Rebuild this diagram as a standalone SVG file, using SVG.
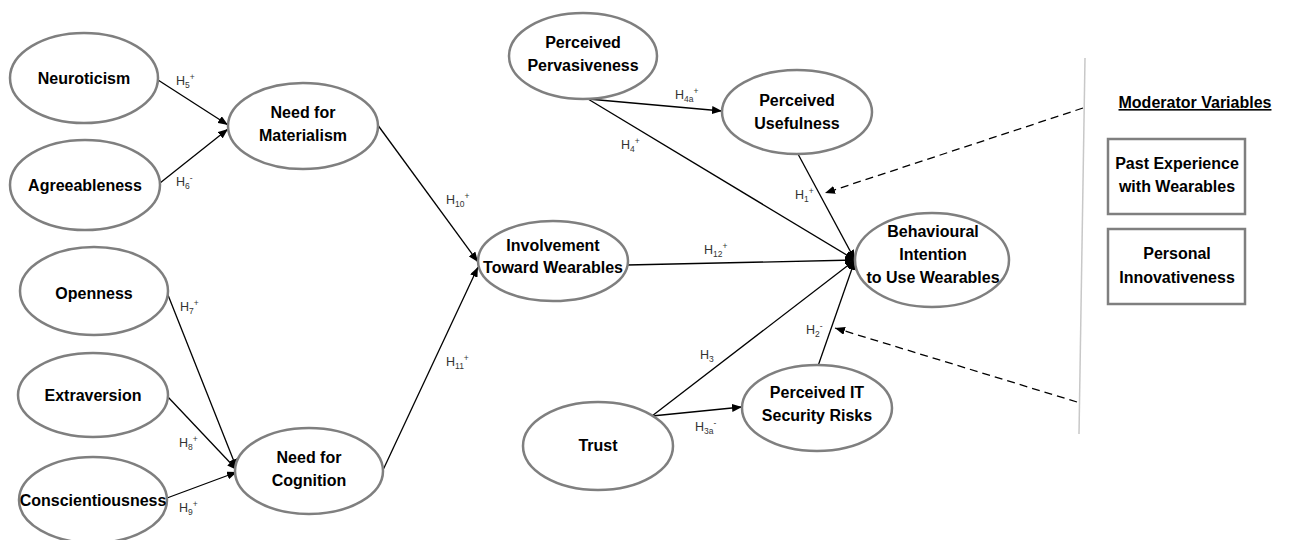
<svg xmlns="http://www.w3.org/2000/svg" width="1290" height="540" viewBox="0 0 1290 540">
<defs>
<marker id="ah" markerUnits="userSpaceOnUse" markerWidth="10" markerHeight="8" refX="10" refY="4" orient="auto">
<path d="M0,0 L10,4 L0,8 z" fill="#000"/>
</marker>
</defs>
<style>
.node ellipse{fill:#fff;stroke:#7f7f7f;stroke-width:2.5}
.node rect{fill:#fff;stroke:#7f7f7f;stroke-width:2.5}
.lbl{font-family:"Liberation Sans",Arial,sans-serif;font-weight:bold;font-size:16px;fill:#000;text-anchor:middle}
.h{font-family:"Liberation Sans",Arial,sans-serif;font-size:12.5px;fill:#333}
.s{font-size:8.5px}
.c line{stroke:#000;stroke-width:1.3;fill:none}
.c .d{stroke-dasharray:8,5}
</style>
<rect width="1290" height="540" fill="#fff"/>

<g id="connectors" class="c">
<line x1="158" y1="80" x2="228" y2="125" marker-end="url(#ah)"/>
<line x1="160" y1="183" x2="228" y2="129" marker-end="url(#ah)"/>
<line x1="168" y1="295" x2="237" y2="469" marker-end="url(#ah)"/>
<line x1="168" y1="397" x2="237" y2="470" marker-end="url(#ah)"/>
<line x1="167" y1="498" x2="237" y2="472" marker-end="url(#ah)"/>
<line x1="377" y1="124" x2="478" y2="262" marker-end="url(#ah)"/>
<line x1="383" y1="470" x2="478" y2="267" marker-end="url(#ah)"/>
<line x1="627" y1="265" x2="855" y2="260" marker-end="url(#ah)"/>
<line x1="588" y1="99" x2="722" y2="111" marker-end="url(#ah)"/>
<line x1="588" y1="99" x2="855" y2="260" marker-end="url(#ah)"/>
<line x1="798" y1="154" x2="855" y2="260" marker-end="url(#ah)"/>
<line x1="652" y1="416" x2="855" y2="260" marker-end="url(#ah)"/>
<line x1="652" y1="416" x2="742" y2="407" marker-end="url(#ah)"/>
<line x1="818" y1="366" x2="855" y2="260" marker-end="url(#ah)"/>
<line class="d" x1="1083" y1="108" x2="825" y2="193" marker-end="url(#ah)"/>
<line class="d" x1="1077" y1="402" x2="835" y2="328" marker-end="url(#ah)"/>
<line x1="1085" y1="58" x2="1079" y2="434" style="stroke:#c8c8c8;stroke-width:1.5"/>
</g>

<g id="n-neuroticism" class="node"><ellipse cx="84" cy="78" rx="74" ry="45"/><text class="lbl" x="84" y="84">Neuroticism</text></g>
<g id="n-agreeableness" class="node"><ellipse cx="85" cy="185" rx="75" ry="45"/><text class="lbl" x="85" y="191">Agreeableness</text></g>
<g id="n-materialism" class="node"><ellipse cx="303" cy="126" rx="75" ry="43"/><text class="lbl" x="303" y="118">Need for</text><text class="lbl" x="303" y="141">Materialism</text></g>
<g id="n-openness" class="node"><ellipse cx="94" cy="291" rx="74" ry="44"/><text class="lbl" x="94" y="299">Openness</text></g>
<g id="n-extraversion" class="node"><ellipse cx="93" cy="395" rx="75" ry="42"/><text class="lbl" x="93" y="401">Extraversion</text></g>
<g id="n-conscientiousness" class="node"><ellipse cx="93" cy="500" rx="74" ry="43"/><text class="lbl" x="93" y="506">Conscientiousness</text></g>
<g id="n-cognition" class="node"><ellipse cx="309" cy="471" rx="74" ry="43"/><text class="lbl" x="309" y="463">Need for</text><text class="lbl" x="309" y="486">Cognition</text></g>
<g id="n-involvement" class="node"><ellipse cx="553" cy="261" rx="75" ry="40"/><text class="lbl" x="553" y="251">Involvement</text><text class="lbl" x="553" y="273">Toward Wearables</text></g>
<g id="n-pervasiveness" class="node"><ellipse cx="583" cy="56" rx="74" ry="43"/><text class="lbl" x="583" y="48">Perceived</text><text class="lbl" x="583" y="71">Pervasiveness</text></g>
<g id="n-usefulness" class="node"><ellipse cx="797" cy="112" rx="75" ry="42"/><text class="lbl" x="797" y="106">Perceived</text><text class="lbl" x="797" y="129">Usefulness</text></g>
<g id="n-intention" class="node"><ellipse cx="932" cy="260" rx="77" ry="47"/><text class="lbl" x="933" y="237">Behavioural</text><text class="lbl" x="933" y="260">Intention</text><text class="lbl" x="933" y="283">to Use Wearables</text></g>
<g id="n-trust" class="node"><ellipse cx="598" cy="446" rx="75" ry="44"/><text class="lbl" x="598" y="451">Trust</text></g>
<g id="n-risks" class="node"><ellipse cx="817" cy="408" rx="75" ry="43"/><text class="lbl" x="817" y="398">Perceived IT</text><text class="lbl" x="817" y="421">Security Risks</text></g>

<g id="moderators">
<text class="lbl" x="1195" y="108" text-decoration="underline">Moderator Variables</text>
<g id="n-past" class="node"><rect x="1108" y="139" width="137" height="75"/><text class="lbl" x="1177" y="169">Past Experience</text><text class="lbl" x="1177" y="192">with Wearables</text></g>
<g id="n-innov" class="node"><rect x="1108" y="229" width="137" height="75"/><text class="lbl" x="1177" y="259">Personal</text><text class="lbl" x="1177" y="283">Innovativeness</text></g>
</g>

<g id="labels">
<text class="h" x="176" y="85">H<tspan class="s" dy="3">5</tspan><tspan class="s" dy="-8">+</tspan></text>
<text class="h" x="176" y="186">H<tspan class="s" dy="3">6</tspan><tspan class="s" dy="-8">-</tspan></text>
<text class="h" x="180" y="311">H<tspan class="s" dy="3">7</tspan><tspan class="s" dy="-8">+</tspan></text>
<text class="h" x="179" y="447">H<tspan class="s" dy="3">8</tspan><tspan class="s" dy="-8">+</tspan></text>
<text class="h" x="179" y="512">H<tspan class="s" dy="3">9</tspan><tspan class="s" dy="-8">+</tspan></text>
<text class="h" x="446" y="204">H<tspan class="s" dy="3">10</tspan><tspan class="s" dy="-8">+</tspan></text>
<text class="h" x="446" y="366">H<tspan class="s" dy="3">11</tspan><tspan class="s" dy="-8">+</tspan></text>
<text class="h" x="704" y="254">H<tspan class="s" dy="3">12</tspan><tspan class="s" dy="-8">+</tspan></text>
<text class="h" x="675" y="99">H<tspan class="s" dy="3">4a</tspan><tspan class="s" dy="-8">+</tspan></text>
<text class="h" x="621" y="149">H<tspan class="s" dy="3">4</tspan><tspan class="s" dy="-8">+</tspan></text>
<text class="h" x="795" y="199">H<tspan class="s" dy="3">1</tspan><tspan class="s" dy="-8">+</tspan></text>
<text class="h" x="700" y="359">H<tspan class="s" dy="3">3</tspan></text>
<text class="h" x="695" y="431">H<tspan class="s" dy="3">3a</tspan><tspan class="s" dy="-8">-</tspan></text>
<text class="h" x="806" y="334">H<tspan class="s" dy="3">2</tspan><tspan class="s" dy="-8">-</tspan></text>
</g>
</svg>
